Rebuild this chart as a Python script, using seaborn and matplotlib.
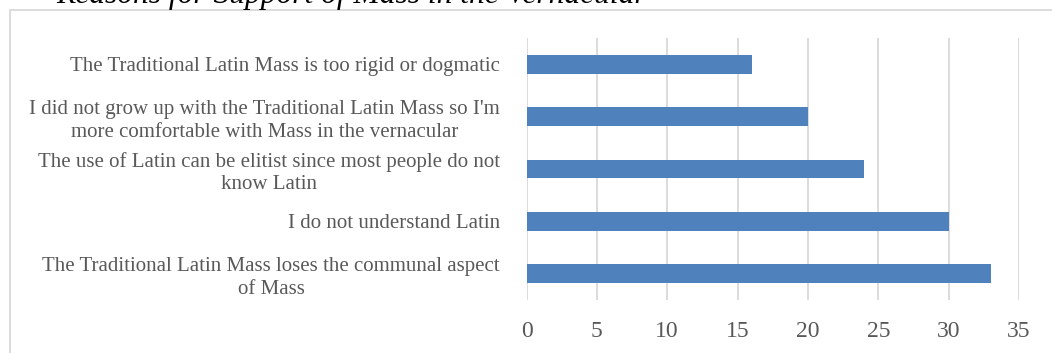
import matplotlib
matplotlib.use("Agg")
import matplotlib.pyplot as plt
import seaborn as sns
from matplotlib.patches import Rectangle

categories = [
    "The Traditional Latin Mass is too rigid or dogmatic",
    "I did not grow up with the Traditional Latin Mass so I'm\nmore comfortable with Mass in the vernacular",
    "The use of Latin can be elitist since most people do not\nknow Latin",
    "I do not understand Latin",
    "The Traditional Latin Mass loses the communal aspect\nof Mass",
]
values = [16, 20, 24, 30, 33]
xticks = [0, 5, 10, 15, 20, 25, 30, 35]
title = "Reasons for Support of Mass in the Vernacular"

sns.set_theme(style="white")
plt.rcParams["font.family"] = ["Liberation Serif", "DejaVu Serif"]

W, H = 1052, 353
fig = plt.figure(figsize=(W / 100, H / 100), dpi=100)
ax = fig.add_axes([526.5 / W, 1 - 300 / H, (1019 - 526.5) / W, (300 - 38) / H])

sns.barplot(x=values, y=categories, orient="h", color="#4F81BD", saturation=1,
            width=0.36, ax=ax, edgecolor="none")

ax.set_xlim(0, 35)
ax.set_xticks(xticks)
ax.set_xticklabels([str(t) for t in xticks])
ax.set_xlabel("")
ax.set_ylabel("")
ax.xaxis.grid(True, color="#D9D9D9", linewidth=1.3)
ax.yaxis.grid(False)
ax.set_axisbelow(True)
for s in ax.spines.values():
    s.set_visible(False)
ax.tick_params(axis="x", length=0, pad=15, labelsize=17, labelcolor="#595959")
ax.tick_params(axis="y", length=0, pad=19, labelsize=15, labelcolor="#595959")
for lbl in ax.get_yticklabels():
    lbl.set_horizontalalignment("right")
    lbl.set_multialignment("center")
    lbl.set_linespacing(1.25)

# outer chart frame
fig.patches.append(Rectangle((10 / W, -0.05), 1.1, 1 - 10 / H + 0.05,
                             transform=fig.transFigure, fill=False,
                             edgecolor="#D9D9D9", linewidth=1.3, zorder=0))

fig.text(56 / W, 1 - 2.5 / H, title, fontsize=22.7, fontstyle="italic",
         color="black", ha="left", va="baseline")

fig.savefig("out.png", dpi=100)
